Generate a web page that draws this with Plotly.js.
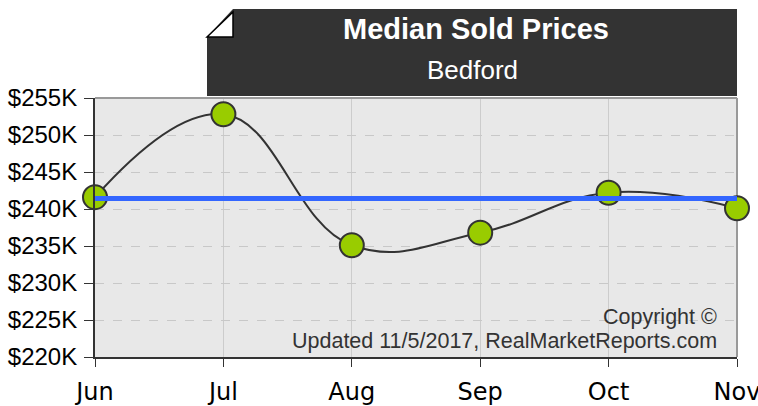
<!DOCTYPE html>
<html>
<head>
<meta charset="utf-8">
<script src="https://cdn.plot.ly/plotly-3.0.1.min.js"></script>
<style>html,body{margin:0;padding:0;background:#fff;}#chart{width:758px;height:406px;}</style>
</head>
<body>
<div id="chart"></div>
<script>
const months = ["Jun", "Jul", "Aug", "Sep", "Oct", "Nov"];
const medianPrices = [241600, 252800, 235100, 236800, 242200, 240100];
const averagePrice = [241430, 241430, 241430, 241430, 241430, 241430];
const yTickVals = [220000, 225000, 230000, 235000, 240000, 245000, 250000, 255000];
const yTickText = ["$220K", "$225K", "$230K", "$235K", "$240K", "$245K", "$250K", "$255K"];
const titleText = "Median Sold Prices";
const subtitleText = "Bedford";
const copyright1 = "Copyright ©";
const copyright2 = "Updated 11/5/2017, RealMarketReports.com";

const traces = [
  {
    x: months, y: medianPrices, type: "scatter", mode: "lines+markers",
    line: {shape: "spline", smoothing: 1.2, color: "#333333", width: 2},
    marker: {size: 24, color: "#99cc00", line: {color: "#333333", width: 2}},
    cliponaxis: false, hoverinfo: "x+y"
  },
  {
    x: months, y: averagePrice, type: "scatter", mode: "lines",
    line: {color: "#3366ff", width: 5}, cliponaxis: false, hoverinfo: "y"
  }
];

const W = 642, H = 259;
function px(v){ return (v - 95) / W; }
function py(v){ return (357 - v) / H; }

const layout = {
  width: 758, height: 406,
  margin: {l: 95, r: 21, t: 98, b: 49},
  paper_bgcolor: "#ffffff",
  plot_bgcolor: "#e8e8e8",
  showlegend: false,
  font: {family: "Liberation Sans, Arial, sans-serif", color: "#000"},
  xaxis: {
    type: "category", range: [0, 5],
    showgrid: true, gridcolor: "#cccccc", gridwidth: 1,
    showline: true, linecolor: "#333333", linewidth: 2,
    ticks: "outside", ticklen: 8, tickcolor: "#333333", tickwidth: 1,
    ticklabelstandoff: 4,
    tickfont: {family: "DejaVu Sans, sans-serif", size: 24, color: "#000"},
    zeroline: false, fixedrange: true
  },
  yaxis: {
    range: [220000, 255000],
    tickvals: yTickVals, ticktext: yTickText,
    showgrid: true, gridcolor: "#c8c8c8", gridwidth: 1, griddash: "dash",
    showline: true, linecolor: "#333333", linewidth: 2,
    ticks: "outside", ticklen: 9, tickcolor: "#333333", tickwidth: 1,
    ticklabelstandoff: 2,
    tickfont: {family: "Liberation Sans, Arial, sans-serif", size: 24, color: "#000"},
    zeroline: false, fixedrange: true
  },
  shapes: [
    {type: "line", xref: "paper", yref: "paper", x0: 0, x1: 1, y0: 1, y1: 1,
     line: {color: "#999999", width: 2}, layer: "above"},
    {type: "line", xref: "paper", yref: "paper", x0: 1, x1: 1, y0: 0, y1: 1,
     line: {color: "#999999", width: 2}, layer: "below"},
    {type: "path", xref: "paper", yref: "paper",
     path: "M " + px(207) + "," + py(37) + " L " + px(233) + "," + py(9) +
           " L " + px(737) + "," + py(9) + " L " + px(737) + "," + py(96) +
           " L " + px(207) + "," + py(96) + " Z",
     fillcolor: "#333333", line: {width: 0}, layer: "above"},
    {type: "path", xref: "paper", yref: "paper",
     path: "M " + px(207) + "," + py(37) + " L " + px(233) + "," + py(12) +
           " L " + px(233) + "," + py(37) + " Z",
     fillcolor: "#ffffff", line: {color: "#000000", width: 1.5}, layer: "above"}
  ],
  annotations: [
    {text: "<b>" + titleText + "</b>", xref: "paper", yref: "paper",
     x: px(476), y: py(29), xanchor: "center", yanchor: "middle", showarrow: false,
     font: {family: "Liberation Sans, Arial, sans-serif", size: 29, color: "#ffffff"}},
    {text: subtitleText, xref: "paper", yref: "paper",
     x: px(472), y: py(70), xanchor: "center", yanchor: "middle", showarrow: false,
     font: {family: "Liberation Sans, Arial, sans-serif", size: 26, color: "#ffffff"}},
    {text: copyright1, xref: "paper", yref: "paper",
     x: px(719), y: py(317), xanchor: "right", yanchor: "middle", showarrow: false,
     font: {family: "Liberation Sans, Arial, sans-serif", size: 21.5, color: "#333333"}},
    {text: copyright2, xref: "paper", yref: "paper",
     x: px(719), y: py(341), xanchor: "right", yanchor: "middle", showarrow: false,
     font: {family: "Liberation Sans, Arial, sans-serif", size: 21.5, color: "#333333"}}
  ]
};

Plotly.newPlot("chart", traces, layout, {displayModeBar: false, staticPlot: true});
</script>
</body>
</html>
